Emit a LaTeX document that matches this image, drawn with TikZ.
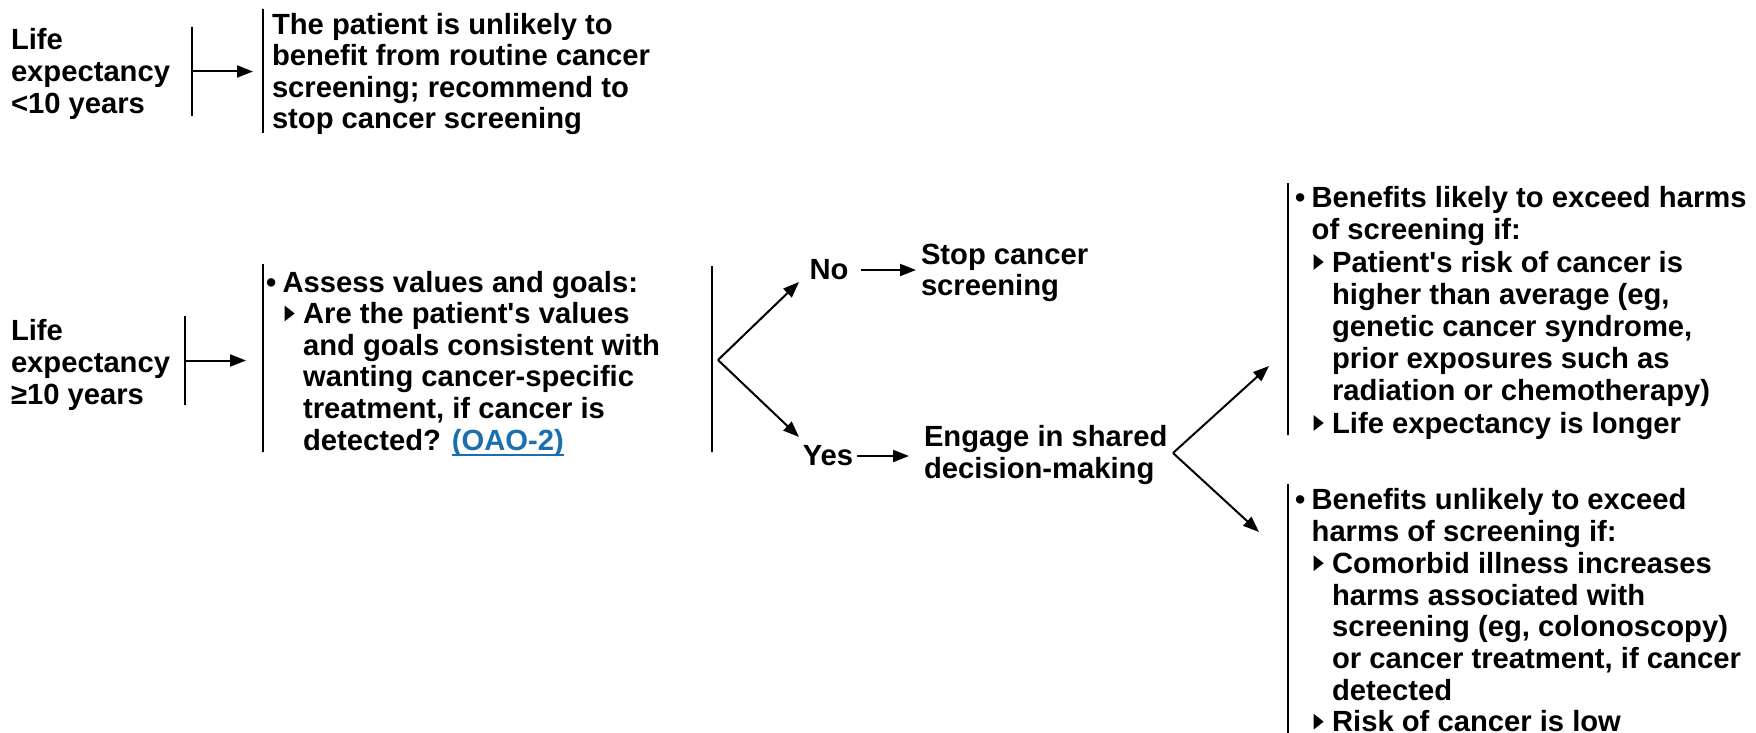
\documentclass[tikz,border=0pt]{standalone}
\usepackage{fontspec}
\setmainfont{Liberation Sans}
\usetikzlibrary{arrows.meta}
\definecolor{linkblue}{RGB}{27,111,175}
\newcommand{\bul}{\makebox[0.57em][l]{\textbullet}}
\newcommand{\ind}{\hspace*{0.57em}}
\newcommand{\tri}{\hspace*{0.64em}\makebox[0.63em][l]{\tikz[x=1pt,y=1pt,baseline=0pt]\fill (0,1.2) -- (0,9) -- (5,5.1) -- cycle;}}
\newcommand{\sind}{\hspace*{1.27em}}
\newcommand{\apos}{\textquotesingle}
\newcommand{\link}[1]{{\color{linkblue}\setbox0\hbox{#1}\rlap{\rule[-3pt]{\wd0}{1pt}}\box0}}

\begin{document}
\begin{tikzpicture}[x=0.5pt,y=0.5pt]
\tikzstyle{every node}+=[inner sep=0pt,outer sep=0pt,font=\fontsize{14.6}{15.8}\selectfont\bfseries]
\tikzstyle{txt}=[anchor=west,align=left]
\tikzstyle{tall}=[font=\fontsize{14.6}{16.1}\selectfont\bfseries]
\tikzstyle{bar}=[draw,line width=1pt,minimum width=0pt]
\tikzstyle{arr}=[-{Triangle[length=8pt,width=6pt]},line width=1pt]
\useasboundingbox (0,0) rectangle (1756,-733);
\node [txt] (lifeA) at (11,-74) {Life\\expectancy\\<10 years};
\node [bar,minimum height=44.5pt] (bar1) at (191.5,-71.5) {};
\node [bar,minimum height=62pt] (bar2) at (263,-71) {};
\node [txt] (unlikely) at (272,-74) {The patient is unlikely to\\benefit from routine cancer\\screening; recommend to\\stop cancer screening};
\draw [arr,shorten >=5pt] (bar1) -- (bar1 -| bar2.west);
\node [txt] (lifeB) at (11,-365) {Life\\expectancy\\≥10 years};
\node [bar,minimum height=44.5pt] (bar3) at (185,-360.5) {};
\node [bar,minimum height=94pt] (bar4) at (263,-358) {};
\node [txt] (assess) at (266,-363.5) {\bul Assess values and goals:\\
\tri Are the patient\apos s values\\
\sind and goals consistent with\\
\sind wanting cancer-specific\\
\sind treatment, if cancer is\\
\sind detected? \link{(OAO-2)}};
\draw [arr,shorten >=8.5pt] (bar3) -- (bar3 -| bar4.west);
\node [bar,minimum height=93pt] (bar5) at (712,-359) {};
\coordinate (fork1) at (718,-360);
\coordinate (notip) at (799,-282);
\coordinate (yestip) at (799,-437);
\draw [arr] (fork1) -- (notip);
\draw [arr] (fork1) -- (yestip);
\node (no) at (829,-270) {No};
\node (yes) at (828,-456) {Yes};
\node [txt] (stop) at (921,-273) {Stop cancer\\screening};
\node [txt] (engage) at (924,-455) {Engage in shared\\decision-making};
\draw [arr,shorten <=6.5pt,shorten >=2.5pt] (no) -- (no -| stop.west);
\draw [arr,shorten <=2pt,shorten >=7.5pt] (yes) -- (yes -| engage.west);
\coordinate (fork2) at (1173,-453);
\coordinate (liketip) at (1269,-366);
\coordinate (unliketip) at (1259,-532);
\draw [arr] (fork2) -- (liketip);
\draw [arr] (fork2) -- (unliketip);
\node [bar,minimum height=126pt] (bar6) at (1288,-309) {};
\node [txt,tall] (likely) at (1295,-313) {\bul Benefits likely to exceed harms\\
\ind of screening if:\\
\tri Patient\apos s risk of cancer is\\
\sind higher than average (eg,\\
\sind genetic cancer syndrome,\\
\sind prior exposures such as\\
\sind radiation or chemotherapy)\\
\tri Life expectancy is longer};
\node [bar,minimum height=124.5pt] (bar7) at (1288,-608.5) {};
\node [txt,font=\fontsize{14.6}{15.85}\selectfont\bfseries] (notlikely) at (1295,-610.5) {\bul Benefits unlikely to exceed\\
\ind harms of screening if:\\
\tri Comorbid illness increases\\
\sind harms associated with\\
\sind screening (eg, colonoscopy)\\
\sind or cancer treatment, if cancer\\
\sind detected\\
\tri Risk of cancer is low};
\end{tikzpicture}
\end{document}
